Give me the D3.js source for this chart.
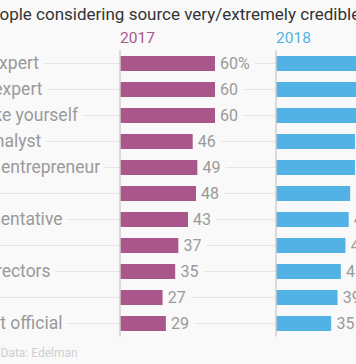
<!DOCTYPE html>
<html><head><meta charset="utf-8">
<script src="https://cdn.jsdelivr.net/npm/d3@7/dist/d3.min.js"></script>
<style>
html,body{margin:0;padding:0;background:#f9f9f9;overflow:hidden}
svg{display:block;font-family:Roboto,"Noto Sans",sans-serif}
</style></head><body>
<svg id="c" width="356" height="364"></svg>
<script>
const categories = ["Technical expert","Academic expert","A person like yourself","Financial analyst","Successful entrepreneur","Employee","NGO representative","CEO","Board of directors","Journalist","Government official"];
const years = ["2017","2018"];
const values2017 = [60,60,60,46,49,48,43,37,35,27,29];
const values2018 = [63,61,54,50,50,47,46,44,41,39,35];
const titleText = "% of people considering source very/extremely credible";
const sourceText = "Data: Edelman";

const W = 356, H = 364, bg = "#f9f9f9";
const colors = {"2017":"#a9578a","2018":"#52b2e6"};
const svg = d3.select("#c");

// title: measured so "ople" begins at the left edge
const title = svg.append("text").attr("y",20).attr("fill","#333").style("font-size","17px").text(titleText);
const pre = title.node().getSubStringLength(0, titleText.indexOf("ople"));
title.attr("x", -pre - 0.5);

const y = d3.scaleBand().domain(categories).range([50.5, 336.5]).paddingInner(11/26).paddingOuter(11/52);
const x = d3.scaleLinear().domain([0,60]).range([0,95]);
const panelX = {"2017":120, "2018":276};

// gridlines
const grid = svg.append("g");
grid.selectAll("line").data(categories).join("line")
  .attr("x1",0).attr("x2",W).attr("y1",d=>y(d)+y.bandwidth()/2).attr("y2",d=>y(d)+y.bandwidth()/2)
  .attr("stroke","#e6e6e6").attr("stroke-width",1);

function knock(sel, pad){
  sel.each(function(){
    const b = this.getBBox();
    d3.select(this.parentNode).insert("rect", ()=>this)
      .attr("x",b.x-pad).attr("y",b.y).attr("width",b.width+pad*2).attr("height",b.height).attr("fill",bg);
  });
}

// row labels (left aligned; start measured so "entrepreneur" begins at x=1)
const lab = svg.append("g");
const measure = lab.append("text").style("font-size","17.5px").text("Successful entrepreneur");
const x0 = -measure.node().getSubStringLength(0, 11) + 1;
measure.remove();
const labels = lab.selectAll("g").data(categories).join("g");
labels.append("text").attr("x",x0).attr("y",d=>y(d)+y.bandwidth()/2).attr("dy","0.3em")
  .attr("fill","#9a9a9a").style("font-size","17.5px").text(d=>d)
  .call(knock,5);

const series = {"2017":values2017,"2018":values2018};
years.forEach(yr=>{
  const g = svg.append("g").attr("transform",`translate(${panelX[yr]},0)`);
  const data = categories.map((c,i)=>({c, v:series[yr][i], i}));
  g.selectAll("rect.bar").data(data).join("rect").attr("class","bar")
    .attr("x",0).attr("y",d=>y(d.c)).attr("width",d=>x(d.v)).attr("height",y.bandwidth())
    .attr("fill",colors[yr]);
  const vl = g.selectAll("g.vl").data(data).join("g").attr("class","vl");
  vl.append("text").attr("x",d=>x(d.v)+5).attr("y",d=>y(d.c)+y.bandwidth()/2).attr("dy","0.36em")
    .attr("fill","#9a9a9a").style("font-size","16px").text(d=>d.i===0? d.v+"%" : d.v)
    .call(knock,5);
  g.append("line").attr("x1",0).attr("x2",0).attr("y1",y.range()[0]).attr("y2",y.range()[1])
    .attr("stroke","#cfcfcf").attr("stroke-width",1.5);
  g.append("text").attr("x",0).attr("y",43).attr("fill",colors[yr]).style("font-size","15.5px").text(yr);
});

svg.append("text").attr("x",0.5).attr("y",357).attr("fill","#cfcfcf").style("font-size","12px").text(sourceText);
</script></body></html>
